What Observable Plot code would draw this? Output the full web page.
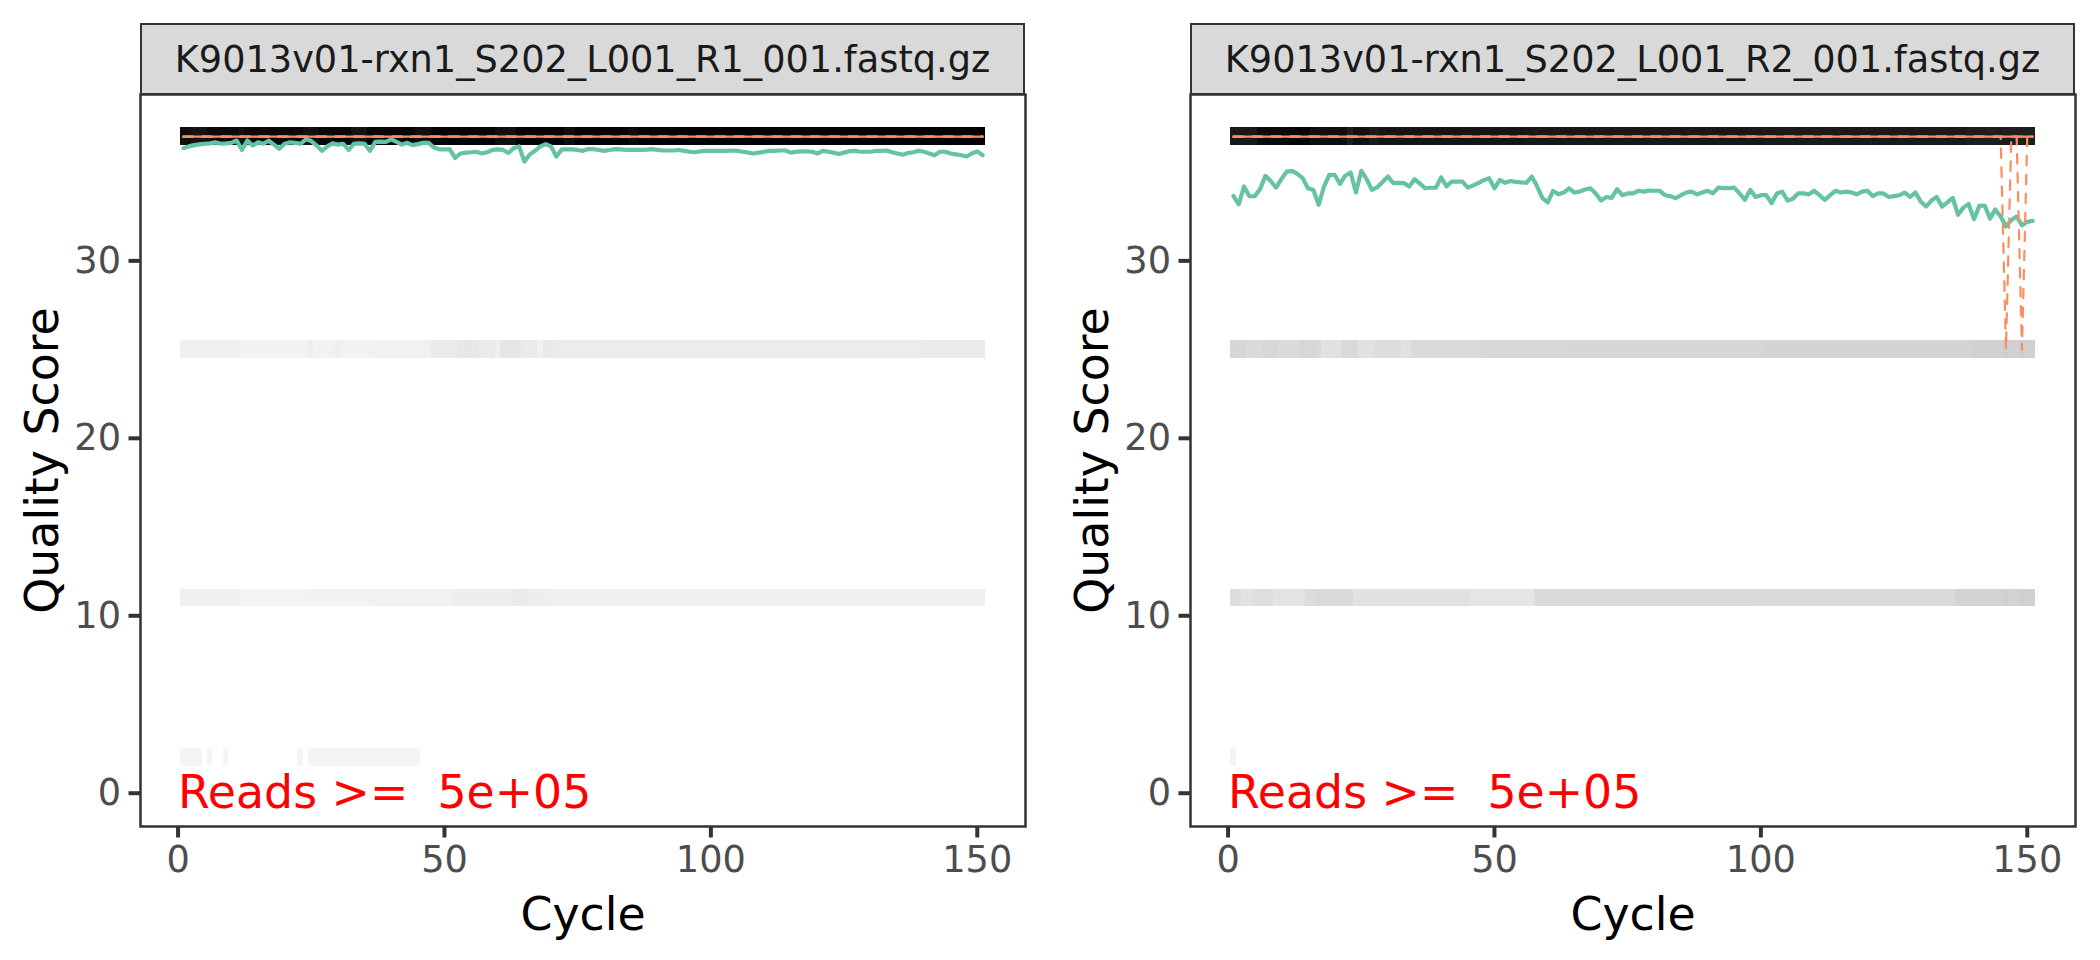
<!DOCTYPE html>
<html>
<head>
<meta charset="utf-8">
<script src="https://cdn.jsdelivr.net/npm/d3@7"></script>
<script src="https://cdn.jsdelivr.net/npm/@observablehq/plot@0.6"></script>
<style>
  html, body { margin: 0; padding: 0; background: #ffffff; }
  #root { position: relative; width: 2100px; height: 960px; background: #ffffff; font-family: "DejaVu Sans", sans-serif; }
  .panel { position: absolute; top: 0; width: 1050px; height: 960px; }
  .panel svg { position: absolute; left: 0; top: 0; }
  .strip { position: absolute; box-sizing: border-box; background: #D9D9D9; border: 2px solid #333333;
           color: #1A1A1A; font-size: 36.7px; display: flex; align-items: center; justify-content: center;
           font-family: "DejaVu Sans", sans-serif; white-space: nowrap; }
</style>
</head>
<body>
<div id="root"></div>
<script>
// ---------------- data ----------------
const files = ["K9013v01-rxn1_S202_L001_R1_001.fastq.gz", "K9013v01-rxn1_S202_L001_R2_001.fastq.gz"];
const cycles = d3.range(1, 152);            // cycle index 1..151
const scores = [2, 11, 25, 37];            // binned quality scores
const xTicks = [0, 50, 100, 150];
const yTicks = [0, 10, 20, 30];
const annotations = [{x: 0, y: 0, label: "Reads >=  5e+05"}];

// mean quality per cycle
const meanR1 = [
  36.35,36.45,36.52,36.56,36.60,36.62,36.68,36.60,36.62,36.65,
  36.78,36.25,36.78,36.50,36.68,36.60,36.77,36.55,36.32,36.60,
  36.68,36.65,36.60,36.85,36.75,36.50,36.20,36.45,36.62,36.55,
  36.60,36.25,36.60,36.62,36.60,36.20,36.70,36.72,36.70,36.85,
  36.70,36.55,36.65,36.52,36.58,36.65,36.65,36.40,36.28,36.28,
  36.28,35.80,36.05,36.10,36.12,36.15,36.05,36.12,36.25,36.28,
  36.25,36.08,36.35,36.45,35.60,36.00,36.20,36.45,36.58,36.45,
  35.88,36.28,36.28,36.28,36.25,36.20,36.30,36.30,36.25,36.20,
  36.25,36.30,36.28,36.25,36.25,36.25,36.25,36.27,36.30,36.25,
  36.22,36.22,36.22,36.25,36.20,36.15,36.12,36.17,36.20,36.20,
  36.20,36.20,36.20,36.22,36.20,36.15,36.10,36.05,36.10,36.15,
  36.20,36.20,36.22,36.22,36.10,36.15,36.17,36.17,36.15,36.05,
  36.20,36.15,36.10,36.02,36.10,36.18,36.20,36.15,36.15,36.15,
  36.20,36.20,36.22,36.12,36.05,35.98,36.08,36.12,36.20,36.15,
  36.05,35.95,36.15,36.15,36.05,36.00,35.95,35.88,36.05,36.17,
  35.95];
const meanR2 = [
  33.66,33.19,34.19,33.64,33.64,34.04,34.79,34.50,34.13,34.60,
  35.03,35.07,34.90,34.66,34.09,34.00,33.16,34.19,34.85,34.85,
  34.34,34.80,34.98,33.85,35.07,34.60,34.00,34.15,34.45,34.75,
  34.38,34.40,34.38,34.19,34.60,34.35,34.09,34.12,34.12,34.70,
  34.20,34.47,34.47,34.47,34.13,34.25,34.40,34.55,34.66,34.09,
  34.56,34.40,34.50,34.45,34.42,34.40,34.75,34.20,33.53,33.29,
  33.94,33.75,33.85,34.09,33.85,33.90,34.02,34.09,33.80,33.40,
  33.60,33.55,34.04,33.70,33.80,33.80,33.95,33.90,33.96,33.95,
  33.95,33.70,33.65,33.53,33.70,33.85,33.90,33.75,33.85,33.95,
  33.80,34.13,34.10,34.10,34.13,33.80,33.44,34.00,33.60,33.70,
  33.70,33.25,33.80,33.90,33.40,33.50,33.80,33.80,33.75,33.95,
  33.70,33.44,33.70,33.95,33.85,33.90,33.85,33.75,33.90,33.95,
  33.65,33.80,33.80,33.60,33.65,33.70,33.85,33.60,33.85,33.35,
  33.06,33.40,33.60,33.06,33.30,33.55,32.60,33.00,33.20,32.35,
  33.10,33.12,32.38,32.90,32.50,31.94,32.30,32.50,32.00,32.20,
  32.25];

// quantile lines as runs [fromCycle, toCycle, score]
const q25R1 = [[1, 151, 37]];
const q50R1 = [[1, 151, 37]];
const q75R1 = [[1, 151, 37]];
const q25R2 = [[1, 145, 37], [146, 146, 25], [147, 148, 37], [149, 149, 25], [150, 151, 37]];
const q50R2 = [[1, 151, 37]];
const q75R2 = [[1, 151, 37]];

// read counts (thousands) per cycle as runs [fromCycle, toCycle, count]
const countR1Q37 = [[1,2,470],[3,5,458],[6,11,476],[12,12,462],[13,23,478],[24,26,464],[27,32,480],[33,35,458],[36,44,482],[45,47,468],[48,59,486],[60,63,466],[64,72,487],[73,74,470],[75,84,488],[85,86,474],[87,151,490]];
const countR1Q25 = [[1,11,11],[12,19,8],[20,24,7],[25,25,16],[26,29,7],[30,30,15],[31,36,7],[37,47,9],[48,52,20],[53,56,26],[57,59,20],[60,60,10],[61,64,28],[65,67,22],[68,68,10],[69,70,24],[71,140,18],[141,151,21]];
const countR1Q11 = [[1,11,10],[12,24,5],[25,36,7],[37,51,9],[52,62,14],[63,65,20],[66,69,14],[70,151,12]];
const countR1Q2  = [[1,4,2],[6,6,2],[9,9,2],[23,23,2],[25,45,2]];
const countR2Q37 = [[1,5,445],[6,11,474],[12,15,483],[16,22,468],[23,23,430],[24,26,465],[27,28,440],[29,40,458],[41,55,455],[56,100,448],[101,138,442],[139,151,432]];
const countR2Q25 = [[1,3,58],[4,6,50],[7,9,56],[10,13,48],[14,16,55],[17,17,50],[18,21,38],[22,24,52],[25,27,38],[28,32,45],[33,34,37],[35,47,50],[48,64,55],[65,100,58],[101,139,61],[140,145,66],[146,146,72],[147,148,66],[149,149,72],[150,151,66]];
const countR2Q11 = [[1,2,44],[3,4,36],[5,8,42],[9,14,34],[15,16,44],[17,23,50],[24,45,37],[46,57,31],[58,98,49],[99,136,50],[137,145,62],[146,146,70],[147,148,63],[149,149,70],[150,151,66]];
const countR2Q2  = [[1,1,6]];

// ---------------- build tables ----------------
function expandRuns(runs) {
  const out = new Map();
  for (const [a, b, v] of runs) for (let c = a; c <= b; c++) out.set(c, v);
  return out;
}
function tiles(runsByScore) {
  const rows = [];
  runsByScore.forEach(([score, runs]) => {
    for (const [c, v] of expandRuns(runs)) rows.push({cycle: c, score, count: v});
  });
  return rows;
}
function stats(mean, q25, q50, q75) {
  const a = expandRuns(q25), b = expandRuns(q50), c = expandRuns(q75);
  return cycles.map((cy, i) => ({cycle: cy, mean: mean[i], q25: a.get(cy), q50: b.get(cy), q75: c.get(cy)}));
}
const panels = [
  {file: files[0],
   tiles: tiles([[37, countR1Q37], [25, countR1Q25], [11, countR1Q11], [2, countR1Q2]]),
   stat: stats(meanR1, q25R1, q50R1, q75R1)},
  {file: files[1],
   tiles: tiles([[37, countR2Q37], [25, countR2Q25], [11, countR2Q11], [2, countR2Q2]]),
   stat: stats(meanR2, q25R2, q50R2, q75R2)}
];
const countExtent = d3.extent(panels.flatMap(p => p.tiles), d => d.count);
const xDomain = [0.5 - 0.05 * 151, 151.5 + 0.05 * 151];
const yDomain = [0 - 0.05 * 37.5, 37.5 + 0.05 * 37.5];

// ---------------- draw ----------------
const root = document.getElementById("root");
const W = 1050, H = 960, mL = 140, mR = 25, mT = 94, mB = 134;

panels.forEach((p, i) => {
  const div = document.createElement("div");
  div.className = "panel";
  div.style.left = (i * W) + "px";
  const chart = Plot.plot({
    width: W, height: H,
    marginLeft: mL, marginRight: mR, marginTop: mT, marginBottom: mB,
    style: {fontFamily: "DejaVu Sans", background: "white", overflow: "visible"},
    x: {domain: xDomain},
    y: {domain: yDomain},
    color: {type: "linear", domain: countExtent, range: ["#F5F5F5", "#000000"], interpolate: "lab"},
    marks: [
      Plot.rect(p.tiles, {
        x1: d => d.cycle - 0.5, x2: d => d.cycle + 0.5,
        y1: d => d.score - 0.5, y2: d => d.score + 0.5,
        fill: "count", inset: 0, shapeRendering: "crispEdges"
      }),
      Plot.line(p.stat, {x: "cycle", y: "mean", stroke: "#66C2A5", strokeWidth: 4.2}),
      Plot.line(p.stat, {x: "cycle", y: "q25", stroke: "#FC8D62", strokeWidth: 2.2, strokeDasharray: "9.5,9.5"}),
      Plot.line(p.stat, {x: "cycle", y: "q50", stroke: "#FC8D62", strokeWidth: 2.2}),
      Plot.line(p.stat, {x: "cycle", y: "q75", stroke: "#FC8D62", strokeWidth: 2.2, strokeDasharray: "9.5,9.5"}),
      Plot.text(annotations, {x: "x", y: "y", text: "label", fill: "red", fontSize: 45.8,
        textAnchor: "start", lineAnchor: "middle"}),
      Plot.frame({stroke: "#333333", strokeWidth: 2.5}),
      Plot.axisX({ticks: xTicks, tickSize: 11.5, tickPadding: 8, fontSize: 36.7,
        fill: "#4D4D4D", stroke: "#333333", strokeWidth: 4, label: null}),
      Plot.axisY({ticks: yTicks, tickSize: 11.5, tickPadding: 8, fontSize: 36.7,
        fill: "#4D4D4D", stroke: "#333333", strokeWidth: 4, label: null}),
      Plot.text(["Quality Score"], {frameAnchor: "left", rotate: -90, dx: -97, fontSize: 45.8,
        fill: "black", textAnchor: "middle", lineAnchor: "middle"}),
      Plot.text(["Cycle"], {frameAnchor: "bottom", dy: 89, fontSize: 45.8, fill: "black",
        textAnchor: "middle", lineAnchor: "middle"})
    ]
  });
  div.appendChild(chart);
  const strip = document.createElement("div");
  strip.className = "strip";
  strip.style.left = mL + "px";
  strip.style.top = "23px";
  strip.style.width = (W - mL - mR) + "px";
  strip.style.height = (mT - 23 + 1) + "px";
  strip.textContent = p.file;
  div.appendChild(strip);
  root.appendChild(div);
});
</script>
</body>
</html>
